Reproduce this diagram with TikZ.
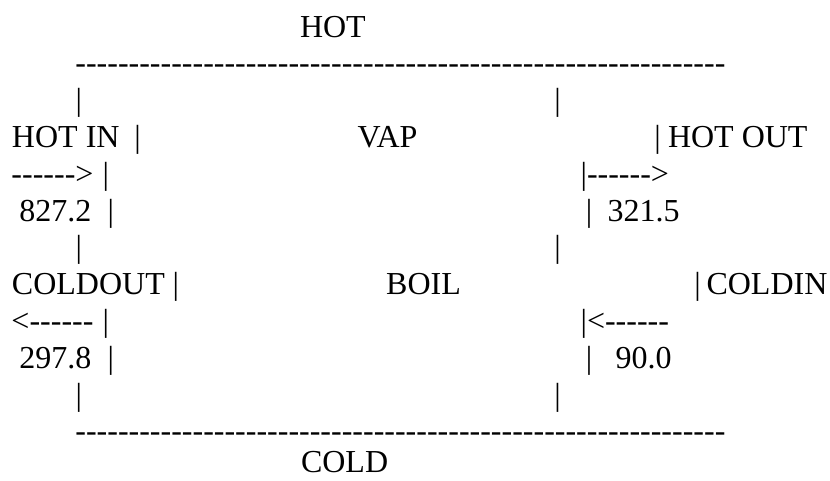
\documentclass[tikz,border=0pt]{standalone}
\usepackage{fontspec}
\setmainfont{Liberation Serif}[Ligatures=TeXOff]
\tikzset{
  txt/.style={anchor=base west, inner sep=0pt, outer sep=0pt, font=\fontsize{32}{36.8}\selectfont},
  barc/.style={anchor=base, inner sep=0pt, outer sep=0pt, font=\fontsize{32}{36.8}\selectfont}
}
\begin{document}
\begin{tikzpicture}[x=1pt,y=-1pt]
\useasboundingbox (0,0) rectangle (830,480);
\fill[white] (0,0) rectangle (830,480);
% line 0
\node[txt] (hot) at (300,37) {HOT};
% line 1
\node[txt] (dtop) at (75.4,73.8) {-------------------------------------------------------------};
% line 2
\node[barc] (b2l) at (78.8,110.6) {|};
\node[barc] (b2r) at (557.5,110.6) {|};
% line 3
\node[txt] (hotin) at (12,147.4) {HOT IN};
\node[barc] (b3l) at (137.5,147.4) {|};
\node[txt] (vap) at (357.5,147.4) {VAP};
\node[barc] (b3r) at (657.5,147.4) {|};
\node[txt] (hotout) at (668,147.4) {HOT OUT};
% line 4
\node[txt] (ain) at (11.5,184.2) {------>};
\node[barc] (b4l) at (105.8,184.2) {|};
\node[txt] (aout) at (580.6,184.2) {|------>};
% line 5
\node[txt] (vin) at (19.5,221) {827.2};
\node[barc] (b5l) at (110.8,221) {|};
\node[barc] (b5r) at (589.1,221) {|};
\node[txt] (vout) at (607.5,221) {321.5};
% line 6
\node[barc] (b6l) at (78.8,257.8) {|};
\node[barc] (b6r) at (557.5,257.8) {|};
% line 7
\node[txt] (coldout) at (12,294.6) {COLDOUT};
\node[barc] (b7l) at (175.8,294.6) {|};
\node[txt] (boil) at (386.2,294.6) {BOIL};
\node[barc] (b7r) at (697.5,294.6) {|};
\node[txt] (coldin) at (706.5,294.6) {COLDIN};
% line 8
\node[txt] (cout) at (11.5,331.4) {<------};
\node[barc] (b8l) at (105.8,331.4) {|};
\node[txt] (cin) at (580.6,331.4) {|<------};
% line 9
\node[txt] (vcout) at (19.5,368.2) {297.8};
\node[barc] (b9l) at (110.8,368.2) {|};
\node[barc] (b9r) at (589.1,368.2) {|};
\node[txt] (vcin) at (615.5,368.2) {90.0};
% line 10
\node[barc] (b10l) at (78.8,405) {|};
\node[barc] (b10r) at (557.5,405) {|};
% line 11
\node[txt] (dbot) at (75.4,441.8) {-------------------------------------------------------------};
% line 12
\node[txt] (cold) at (301,472.5) {COLD};
\end{tikzpicture}
\end{document}
